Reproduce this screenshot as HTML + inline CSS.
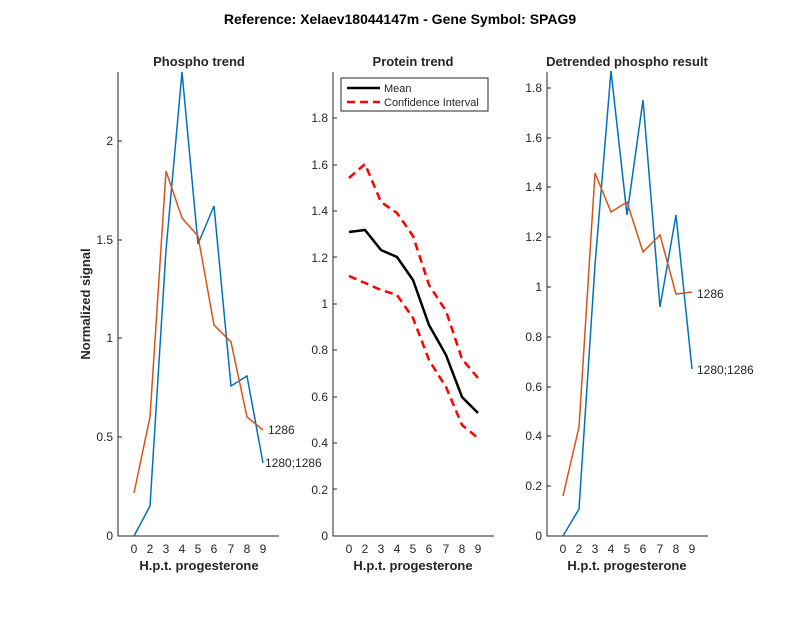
<!DOCTYPE html>
<html><head><style>body{margin:0;background:#fff}svg{display:block}text{font-family:"Liberation Sans",Arial,sans-serif}</style></head>
<body>
<svg width="800" height="618" viewBox="0 0 800 618" xmlns="http://www.w3.org/2000/svg">
<rect width="800" height="618" fill="#fff"/>
<text x="400" y="24" font-size="14" font-weight="bold" text-anchor="middle">Reference:  Xelaev18044147m - Gene Symbol:  SPAG9</text>

<!-- Panel 1 -->
<g font-size="12" fill="#262626">
<text x="199" y="66" font-size="13" font-weight="bold" text-anchor="middle">Phospho trend</text>
<path d="M118,72V536H279" stroke="#262626" fill="none"/>
<g stroke="#262626">
<line x1="118" y1="437" x2="122" y2="437"/><line x1="118" y1="338" x2="122" y2="338"/><line x1="118" y1="240" x2="122" y2="240"/><line x1="118" y1="141" x2="122" y2="141"/>
</g>
<g text-anchor="end"><text x="113" y="540">0</text><text x="113" y="441">0.5</text><text x="113" y="342">1</text><text x="113" y="244">1.5</text><text x="113" y="145">2</text></g>
<g text-anchor="middle"><text x="134" y="553">0</text><text x="150" y="553">2</text><text x="166" y="553">3</text><text x="182" y="553">4</text><text x="198" y="553">5</text><text x="214" y="553">6</text><text x="231" y="553">7</text><text x="247" y="553">8</text><text x="263" y="553">9</text></g>
<text x="199" y="570" font-size="13" font-weight="bold" text-anchor="middle">H.p.t. progesterone</text>
<text transform="translate(90,304) rotate(-90)" font-size="13" font-weight="bold" text-anchor="middle">Normalized signal</text>
<polyline fill="none" stroke="#0072BD" stroke-width="1.5" points="134,536 150,506 166,250 182,72 198,244 214,206 231,386 247,376 263,463"/>
<polyline fill="none" stroke="#D95319" stroke-width="1.5" points="134,493 150,417 166,171 182,218 198,236 214,325 231,342 247,417 263,430"/>
<text x="268" y="434">1286</text>
<text x="265" y="467">1280;1286</text>
</g>

<!-- Panel 2 -->
<g font-size="12" fill="#262626">
<text x="413" y="66" font-size="13" font-weight="bold" text-anchor="middle">Protein trend</text>
<path d="M333,72V536H494" stroke="#262626" fill="none"/>
<g text-anchor="end">
<text x="328" y="540">0</text><text x="328" y="494">0.2</text><text x="328" y="447">0.4</text><text x="328" y="401">0.6</text><text x="328" y="354">0.8</text><text x="328" y="308">1</text><text x="328" y="262">1.2</text><text x="328" y="215">1.4</text><text x="328" y="169">1.6</text><text x="328" y="122">1.8</text>
</g>
<g stroke="#262626"><line x1="333" y1="489" x2="337" y2="489"/><line x1="333" y1="443" x2="337" y2="443"/><line x1="333" y1="397" x2="337" y2="397"/><line x1="333" y1="350" x2="337" y2="350"/><line x1="333" y1="304" x2="337" y2="304"/><line x1="333" y1="257" x2="337" y2="257"/><line x1="333" y1="211" x2="337" y2="211"/><line x1="333" y1="165" x2="337" y2="165"/><line x1="333" y1="118" x2="337" y2="118"/></g>
<g text-anchor="middle"><text x="349" y="553">0</text><text x="365" y="553">2</text><text x="381" y="553">3</text><text x="397" y="553">4</text><text x="413" y="553">5</text><text x="429" y="553">6</text><text x="446" y="553">7</text><text x="462" y="553">8</text><text x="478" y="553">9</text></g>
<text x="413" y="570" font-size="13" font-weight="bold" text-anchor="middle">H.p.t. progesterone</text>
<polyline fill="none" stroke="#000" stroke-width="2.5" points="349,232 365,230 381,250 397,257 413,280 429,325 446,355 462,397 478,413"/>
<polyline fill="none" stroke="#f00" stroke-width="2.5" stroke-dasharray="8,5" points="349,178 365,164 381,202 397,213 413,236 429,285 446,311 462,359 478,378"/>
<polyline fill="none" stroke="#f00" stroke-width="2.5" stroke-dasharray="8,5" points="349,276 365,283 381,290 397,295 413,318 429,360 446,387 462,425 478,438"/>
<rect x="341" y="78" width="147" height="33" fill="#fff" stroke="#262626"/>
<line x1="347" y1="88" x2="380" y2="88" stroke="#000" stroke-width="2.5"/>
<line x1="347" y1="102" x2="380" y2="102" stroke="#f00" stroke-width="2.5" stroke-dasharray="8,5"/>
<text x="384" y="92" font-size="11">Mean</text>
<text x="384" y="106" font-size="11">Confidence Interval</text>
</g>

<!-- Panel 3 -->
<g font-size="12" fill="#262626">
<text x="627" y="66" font-size="13" font-weight="bold" text-anchor="middle">Detrended phospho result</text>
<path d="M547,72V536H708" stroke="#262626" fill="none"/>
<g text-anchor="end">
<text x="542" y="540">0</text><text x="542" y="490">0.2</text><text x="542" y="440">0.4</text><text x="542" y="391">0.6</text><text x="542" y="341">0.8</text><text x="542" y="291">1</text><text x="542" y="241">1.2</text><text x="542" y="191">1.4</text><text x="542" y="142">1.6</text><text x="542" y="92">1.8</text>
</g>
<g stroke="#262626"><line x1="547" y1="486" x2="551" y2="486"/><line x1="547" y1="436" x2="551" y2="436"/><line x1="547" y1="387" x2="551" y2="387"/><line x1="547" y1="337" x2="551" y2="337"/><line x1="547" y1="287" x2="551" y2="287"/><line x1="547" y1="237" x2="551" y2="237"/><line x1="547" y1="187" x2="551" y2="187"/><line x1="547" y1="138" x2="551" y2="138"/><line x1="547" y1="88" x2="551" y2="88"/></g>
<g text-anchor="middle"><text x="563" y="553">0</text><text x="579" y="553">2</text><text x="595" y="553">3</text><text x="611" y="553">4</text><text x="627" y="553">5</text><text x="643" y="553">6</text><text x="660" y="553">7</text><text x="676" y="553">8</text><text x="692" y="553">9</text></g>
<text x="627" y="570" font-size="13" font-weight="bold" text-anchor="middle">H.p.t. progesterone</text>
<polyline fill="none" stroke="#0072BD" stroke-width="1.5" points="563,536 579,509 595,265 611,71 627,215 643,100 660,307 676,215 692,369"/>
<polyline fill="none" stroke="#D95319" stroke-width="1.5" points="563,496 579,427 595,173 611,212 627,202 643,252 660,235 676,294 692,292"/>
<text x="697" y="298">1286</text>
<text x="697" y="374">1280;1286</text>
</g>
</svg>
</body></html>
